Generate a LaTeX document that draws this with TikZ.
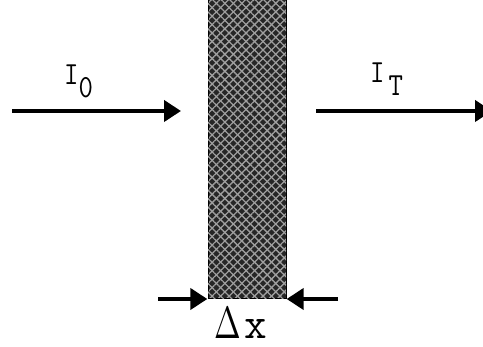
\documentclass[tikz,border=0pt]{standalone}
\usepackage{fontspec}
\usetikzlibrary{arrows.meta,patterns.meta}

\begin{document}
\begin{tikzpicture}[x=1pt,y=1pt,
    beam/.style={line width=4pt, -{Triangle[length=17pt,width=21pt]}},
    lbl/.style={font=\ttfamily\fontsize{28}{28}\selectfont, inner sep=0pt, anchor=base west},
    slabbox/.style={draw, line width=1pt, minimum width=78pt, minimum height=305pt,
                inner sep=0pt, anchor=south, preaction={fill=black!85},
                pattern={Lines[angle=45,distance=6pt,line width=1.3pt]}, pattern color=gray!75,
                postaction={pattern={Lines[angle=-45,distance=6pt,line width=1.3pt]}, pattern color=gray!75}},
]
\useasboundingbox[fill=white] (0,0) rectangle (483,347);

% Absorbing slab
\node[slabbox] (slab) at (247,48) {};

% Incident and transmitted beams
\coordinate (inL) at (12,236);
\coordinate (inR) at (181,236);
\draw[beam] (inL) -- (inR);
\coordinate (outL) at (316,236);
\coordinate (outR) at (492,236);
\draw[beam] (outL) -- (outR);

\node[lbl] (izero) at (64,262) {\scalebox{1}[1.15]{I\raisebox{-11pt}{0}}};
\node[lbl] (itrans) at (370,264) {\scalebox{1}[1.15]{I\hspace{4pt}\raisebox{-11pt}{T}}};

% Thickness markers
\coordinate (wL) at (158,48);
\coordinate (wR) at (338,48);
\draw[beam] (wL) -- (slab.south west);
\draw[beam] (wR) -- (slab.south east);

\node[lbl, font=\ttfamily\fontsize{44}{44}\selectfont] (dx) at (214,8)
  {{\fontsize{10}{10}\selectfont\scalebox{3.2}[4.5]{$\Delta$}}\hspace{4pt}x};

\end{tikzpicture}
\end{document}
